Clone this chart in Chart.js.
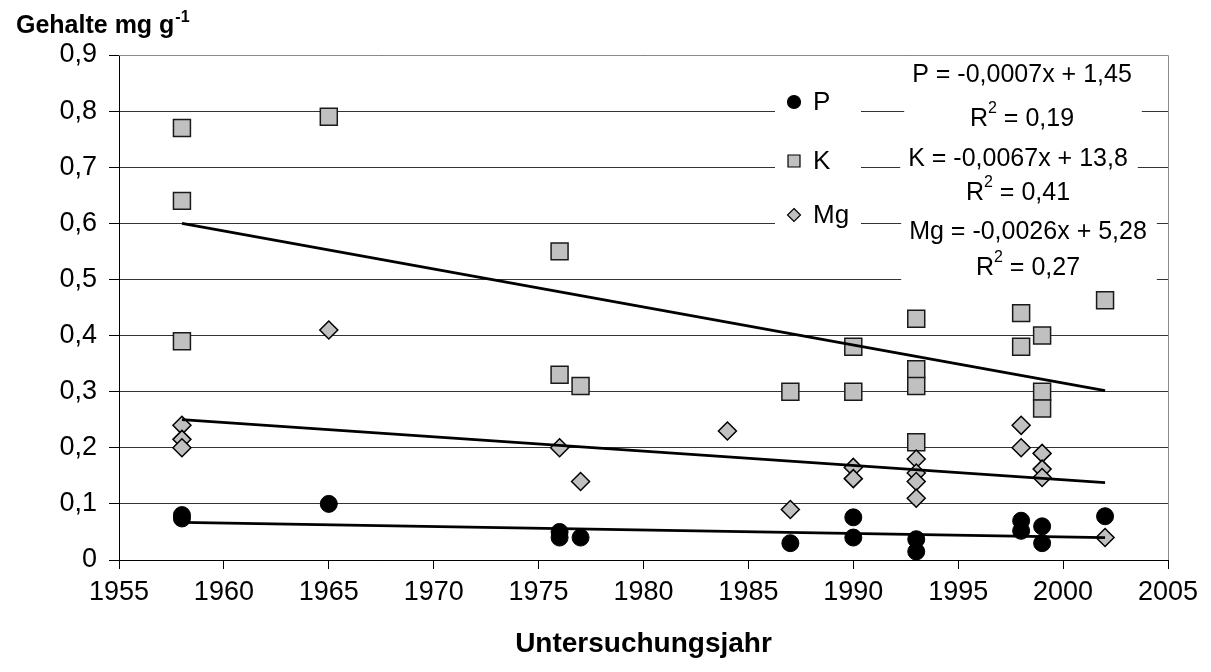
<!DOCTYPE html>
<html>
<head>
<meta charset="utf-8">
<script src="https://cdn.jsdelivr.net/npm/chart.js@4.4.1/dist/chart.umd.min.js"></script>
<style>
  html, body { margin: 0; padding: 0; background: #fff; }
  #wrap { width: 1211px; height: 672px; }
</style>
</head>
<body>
<div id="wrap"><canvas id="myChart"></canvas></div>
<script>
// Messwerte (Untersuchungsjahr / Gehalt mg g-1)
const pYears  = [1958, 1958, 1965, 1976, 1976, 1977, 1987, 1990, 1990, 1993, 1993, 1998, 1998, 1999, 1999, 2002];
const pValues = [0.08, 0.074, 0.10, 0.05, 0.04, 0.04, 0.03, 0.076, 0.04, 0.037, 0.015, 0.07, 0.052, 0.06, 0.03, 0.078];

const kYears  = [1958, 1958, 1958, 1965, 1976, 1976, 1977, 1987, 1990, 1990, 1993, 1993, 1993, 1993, 1998, 1998, 1999, 1999, 1999, 2002];
const kValues = [0.77, 0.64, 0.39, 0.79, 0.55, 0.33, 0.31, 0.30, 0.38, 0.30, 0.43, 0.34, 0.31, 0.21, 0.44, 0.38, 0.40, 0.30, 0.27, 0.463];

const mgYears  = [1958, 1958, 1958, 1965, 1976, 1977, 1984, 1987, 1990, 1990, 1993, 1993, 1993, 1993, 1998, 1998, 1999, 1999, 1999, 2002];
const mgValues = [0.24, 0.215, 0.20, 0.41, 0.20, 0.14, 0.23, 0.09, 0.165, 0.145, 0.18, 0.155, 0.14, 0.11, 0.24, 0.20, 0.19, 0.162, 0.147, 0.04];

// Trendlinien (Anfang / Ende)
const trendYears = [1958, 2002];
const trendP  = [0.067, 0.04];
const trendK  = [0.60, 0.302];
const trendMg = [0.25, 0.138];

const xTicks = [1955, 1960, 1965, 1970, 1975, 1980, 1985, 1990, 1995, 2000, 2005];
const yTicks = [0, 0.1, 0.2, 0.3, 0.4, 0.5, 0.6, 0.7, 0.8, 0.9];
const yTickLabels = ['0', '0,1', '0,2', '0,3', '0,4', '0,5', '0,6', '0,7', '0,8', '0,9'];

const legendNames = ['P', 'K', 'Mg'];
const eqTexts = ['P = -0,0007x + 1,45', 'K = -0,0067x + 13,8', 'Mg = -0,0026x + 5,28'];
const r2Texts = ['0,19', '0,41', '0,27'];

const FONT = '"Liberation Sans", Arial, sans-serif';

function points(xs, ys) {
    return xs.map((x, i) => ({ x: x, y: ys[i] }));
}

function trend(ys) {
    return {
        type: 'line',
        data: points(trendYears, ys),
        borderColor: '#000',
        borderWidth: 2.8,
        pointRadius: 0,
        fill: false,
        order: 0
    };
}

// Titel, Rahmen, Legende und Gleichungen
const extras = {
    id: 'extras',
    afterDraw(chart) {
        const ctx = chart.ctx;
        const area = chart.chartArea;
        ctx.save();

        // grauer Rahmen oben / rechts
        ctx.strokeStyle = '#8c8c8c';
        ctx.lineWidth = 1;
        ctx.beginPath();
        ctx.moveTo(area.left, area.top + 0.5);
        ctx.lineTo(area.right + 0.5, area.top + 0.5);
        ctx.lineTo(area.right + 0.5, area.bottom);
        ctx.stroke();

        // Achsentitel oben links
        ctx.fillStyle = '#000';
        ctx.textBaseline = 'alphabetic';
        ctx.textAlign = 'left';
        ctx.font = 'bold 25px ' + FONT;
        const t = 'Gehalte mg g';
        ctx.fillText(t, 16, 33);
        const tw = ctx.measureText(t).width;
        ctx.font = 'bold 16px ' + FONT;
        ctx.fillText('-1', 16 + tw + 1, 22);

        // Legende
        ctx.fillStyle = '#fff';
        ctx.fillRect(775, 72, 86, 172);
        const rows = [102, 161, 215];
        rows.forEach((y, i) => {
            const x = 794;
            ctx.lineWidth = 1.2;
            ctx.strokeStyle = '#000';
            ctx.beginPath();
            if (i === 0) {
                ctx.fillStyle = '#000';
                ctx.arc(x, y, 6.5, 0, Math.PI * 2);
            } else if (i === 1) {
                ctx.fillStyle = '#c0c0c0';
                ctx.rect(x - 6, y - 6, 12, 12);
            } else {
                ctx.fillStyle = '#c0c0c0';
                ctx.moveTo(x, y - 6.5);
                ctx.lineTo(x + 6.5, y);
                ctx.lineTo(x, y + 6.5);
                ctx.lineTo(x - 6.5, y);
                ctx.closePath();
            }
            ctx.fill();
            ctx.stroke();
            ctx.fillStyle = '#000';
            ctx.font = '26px ' + FONT;
            ctx.textBaseline = 'middle';
            ctx.textAlign = 'left';
            ctx.fillText(legendNames[i], 813, y + 1);
        });

        // Gleichungen mit Bestimmtheitsmass
        const eqCenters = [1022, 1018, 1028];
        const eqRows = [[75, 119], [159, 193], [232, 268]];
        const boxes = [[57, 139], [140, 210], [212, 287]];
        eqTexts.forEach((txt, i) => {
            const cx = eqCenters[i];
            ctx.font = '25px ' + FONT;
            const w1 = ctx.measureText(txt).width;
            ctx.fillStyle = '#fff';
            ctx.fillRect(cx - w1 / 2 - 8, boxes[i][0], w1 + 18, boxes[i][1] - boxes[i][0]);

            ctx.fillStyle = '#000';
            ctx.textBaseline = 'middle';
            ctx.textAlign = 'left';
            ctx.fillText(txt, cx - w1 / 2, eqRows[i][0]);

            const rest = ' = ' + r2Texts[i];
            const wR = ctx.measureText('R').width;
            const wRest = ctx.measureText(rest).width;
            ctx.font = '16px ' + FONT;
            const w2 = ctx.measureText('2').width;
            const x0 = cx - (wR + w2 + wRest) / 2;
            const y = eqRows[i][1];
            ctx.font = '25px ' + FONT;
            ctx.fillText('R', x0, y);
            ctx.fillText(rest, x0 + wR + w2, y);
            ctx.font = '16px ' + FONT;
            ctx.fillText('2', x0 + wR, y - 10);
        });

        ctx.restore();
    }
};

const ctx = document.getElementById('myChart');
new Chart(ctx, {
    type: 'scatter',
    data: {
        datasets: [
            trend(trendK),
            trend(trendMg),
            trend(trendP),
            {
                label: 'P',
                data: points(pYears, pValues),
                pointStyle: 'circle',
                pointRadius: 8.5,
                backgroundColor: '#000',
                borderColor: '#000',
                borderWidth: 1,
                order: 3
            },
            {
                label: 'K',
                data: points(kYears, kValues),
                pointStyle: 'rect',
                pointRadius: 12,
                backgroundColor: '#c0c0c0',
                borderColor: '#1a1a1a',
                borderWidth: 1.5,
                order: 2
            },
            {
                label: 'Mg',
                data: points(mgYears, mgValues),
                pointStyle: 'rectRot',
                pointRadius: 9,
                backgroundColor: '#c0c0c0',
                borderColor: '#000',
                borderWidth: 1.5,
                order: 1
            }
        ]
    },
    options: {
        responsive: true,
        maintainAspectRatio: false,
        animation: false,
        events: [],
        layout: {
            padding: { top: 55, right: 43, left: 0, bottom: 0 }
        },
        plugins: {
            legend: { display: false },
            tooltip: { enabled: false }
        },
        scales: {
            x: {
                type: 'linear',
                min: 1955,
                max: 2005,
                afterBuildTicks: scale => { scale.ticks = xTicks.map(v => ({ value: v })); },
                afterFit: scale => { scale.height = 112; },
                ticks: {
                    color: '#000',
                    font: { family: FONT, size: 27 },
                    padding: 7,
                    maxRotation: 0,
                    callback: (v, i) => String(xTicks[i])
                },
                grid: {
                    drawOnChartArea: false,
                    drawTicks: true,
                    tickLength: 9,
                    tickColor: '#000'
                },
                border: { color: '#000', width: 1 },
                title: {
                    display: true,
                    text: 'Untersuchungsjahr',
                    color: '#000',
                    font: { family: FONT, size: 28, weight: 'bold' },
                    padding: { top: 0, bottom: 11 }
                }
            },
            y: {
                min: 0,
                max: 0.9,
                afterBuildTicks: scale => { scale.ticks = yTicks.map(v => ({ value: v })); },
                afterFit: scale => { scale.width = 119; },
                ticks: {
                    color: '#000',
                    font: { family: FONT, size: 27 },
                    padding: 12,
                    callback: (v, i) => yTickLabels[i]
                },
                grid: {
                    color: '#333',
                    lineWidth: 1,
                    drawTicks: true,
                    tickLength: 10,
                    tickColor: '#000'
                },
                border: { color: '#000', width: 1 }
            }
        }
    },
    plugins: [extras]
});
</script>
</body>
</html>
